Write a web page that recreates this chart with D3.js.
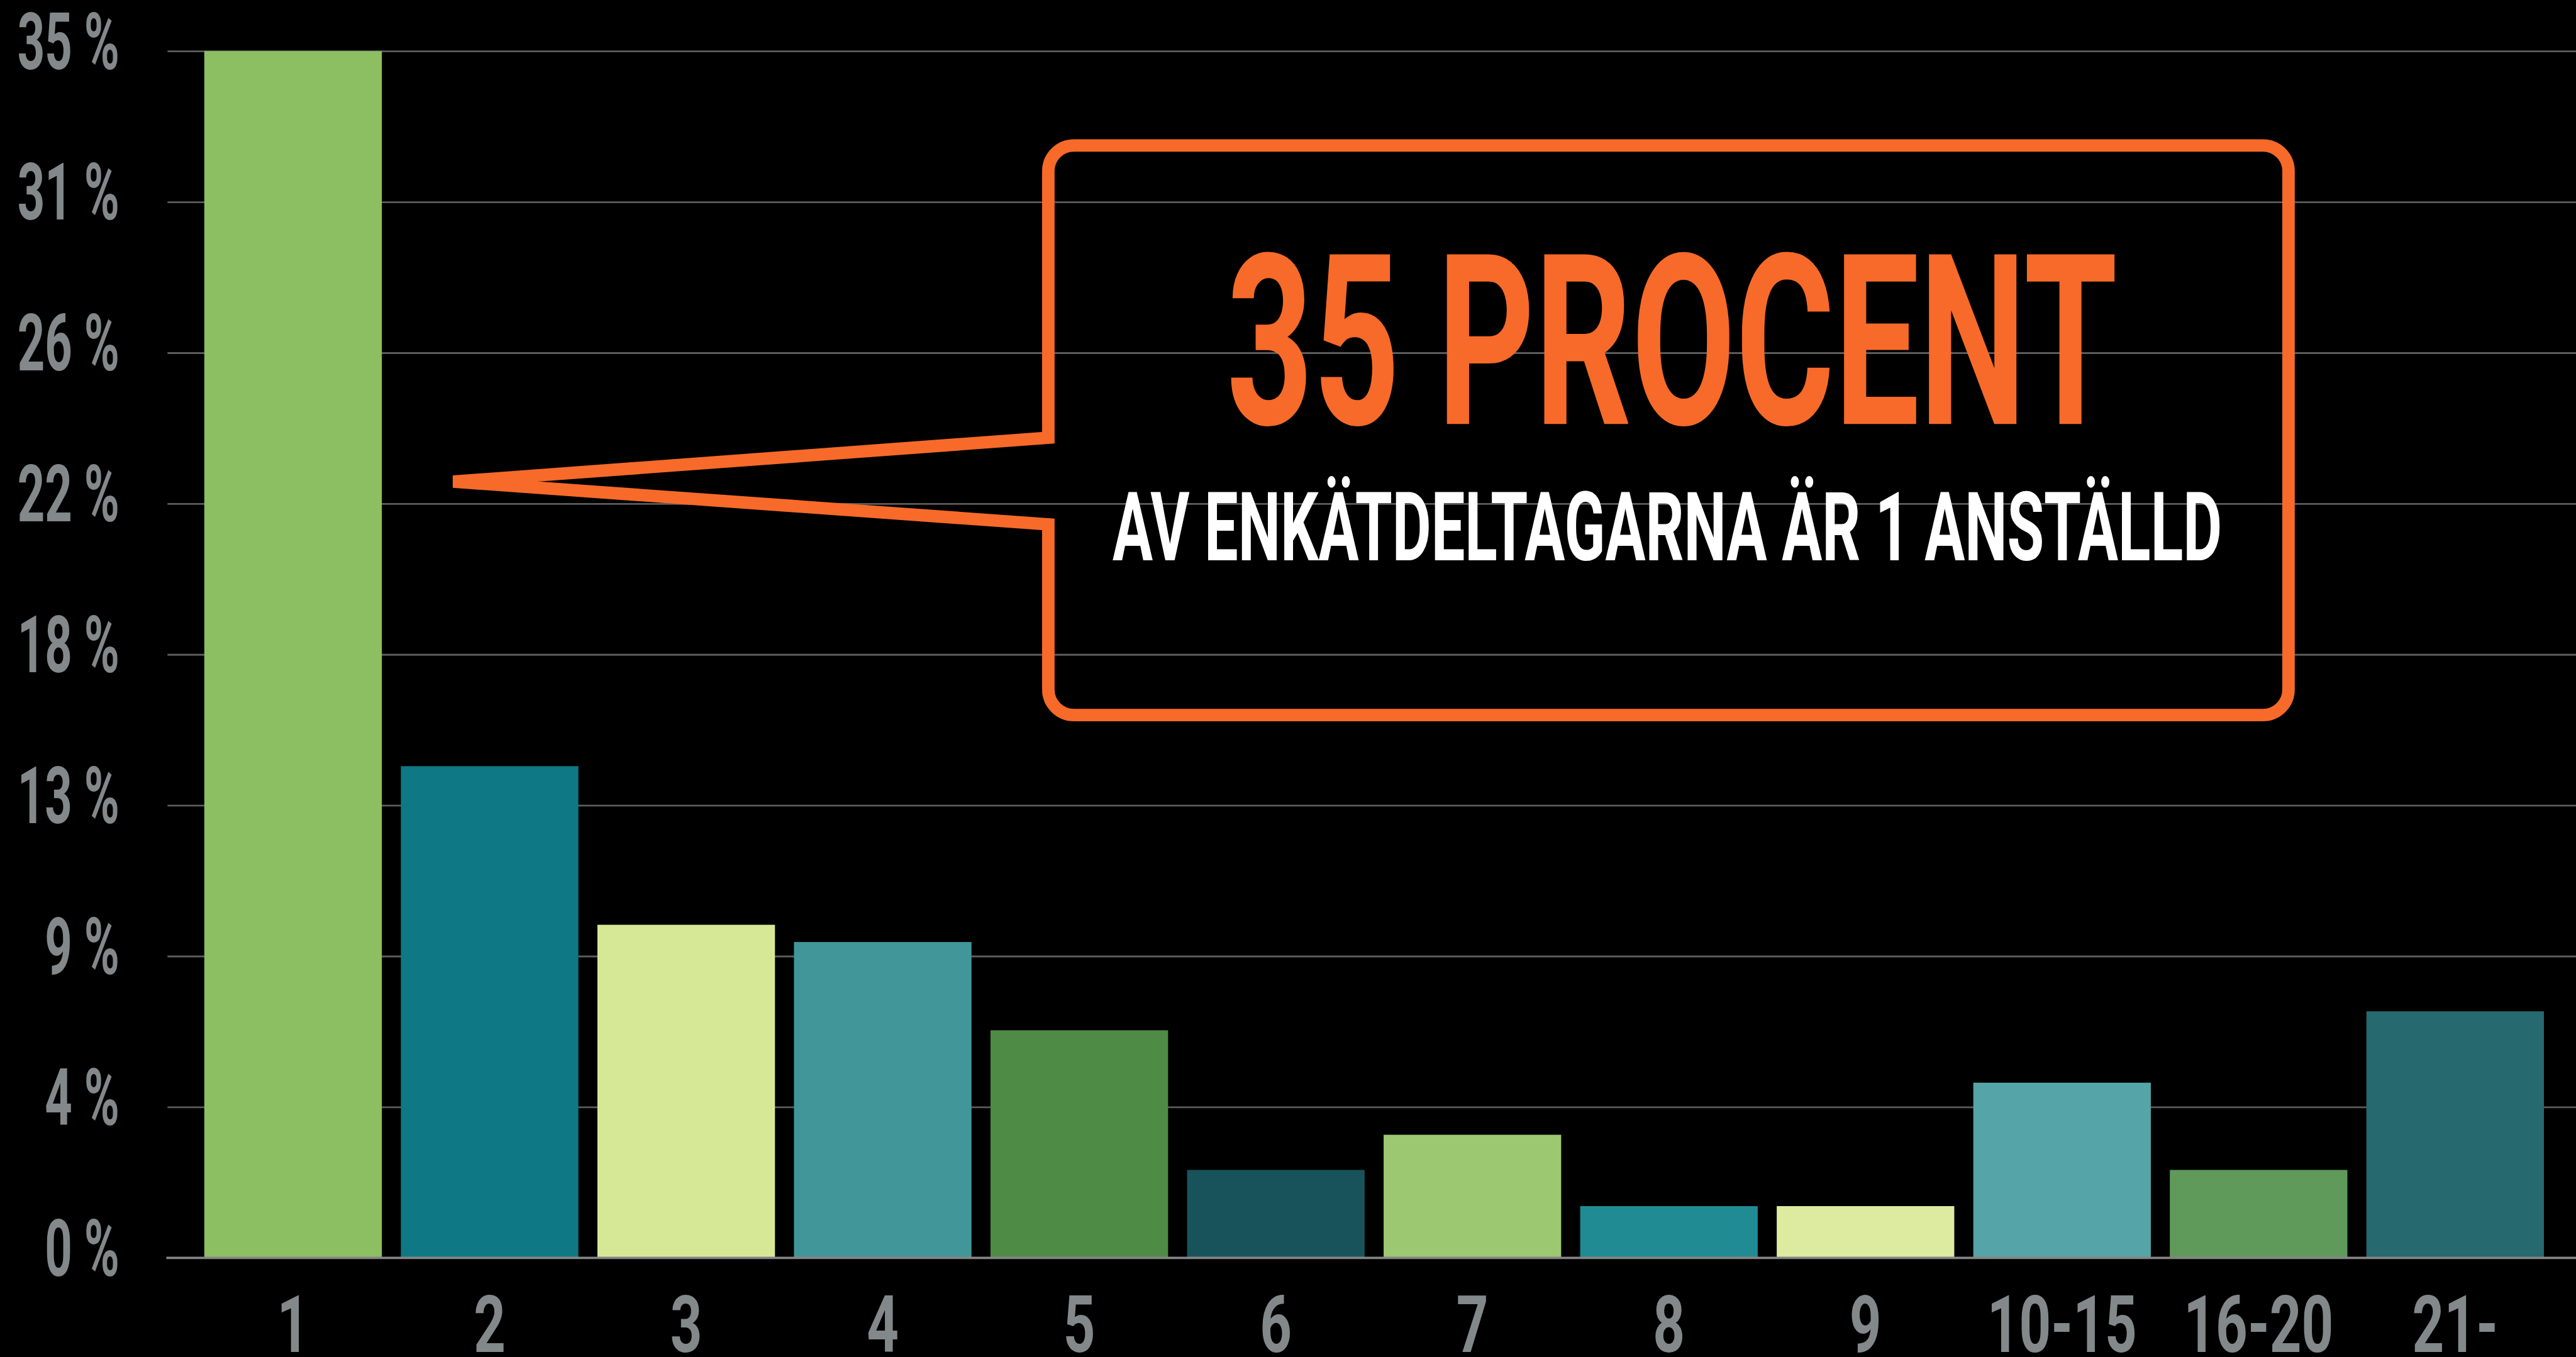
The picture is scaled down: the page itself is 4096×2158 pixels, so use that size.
<!DOCTYPE html>
<html>
<head>
<meta charset="utf-8">
<script src="https://cdn.jsdelivr.net/npm/d3@7"></script>
<style>
    html, body { margin: 0; padding: 0; background: #000; overflow: hidden; }
    svg { display: block; }
</style>
</head>
<body>
<svg id="chart"></svg>
<script>
(function(){
    // data -----------------
    var categories = ['1','2','3','4','5','6','7','8','9','10-15','16-20','21-'];
    var shares = [35, 14.26, 9.66, 9.16, 6.6, 2.55, 3.57, 1.5, 1.5, 5.08, 2.55, 7.15];
    var barColors = ['#8cbf61','#0e7884','#d6e896','#419699','#4e8b45','#18535b',
                     '#9cc872','#218b94','#dceb9f','#55a4a7','#5f9a5a','#26696e'];
    var yTicks = [0, 4.375, 8.75, 13.125, 17.5, 21.875, 26.25, 30.625, 35];
    var yTickLabels = ['0 %','4 %','9 %','13 %','18 %','22 %','26 %','31 %','35 %'];
    var calloutTitle = '35 PROCENT';
    var calloutText = 'AV ENKÄTDELTAGARNA ÄR 1 ANSTÄLLD';

    // layout, in reference pixels; scaled down to the window below
    var W = 4337, H = 2285;
    var vw = 4096, vh = 2158;
    var k = vw / W;
    var gridLeft = 282;
    var orange = '#f76a29', labelGrey = '#83888a';
    var font = 'Roboto, "DejaVu Sans", sans-serif';

    var svg = d3.select('#chart').attr('width', vw).attr('height', vh);
    svg.append('rect').attr('width', vw).attr('height', vh).attr('fill', '#000');
    var root = svg.append('g').attr('transform', 'scale(' + k + ')');

    var y = d3.scaleLinear().domain([0, 35]).range([2118, 86]);
    var x = d3.scaleBand().domain(categories)
        .range([328, 4299])
        .paddingInner(0.0967)
        .paddingOuter(0.0483);

    // GRID -----------------
    var grid = root.append('g')
        .attr('transform', 'translate(' + gridLeft + ',0)')
        .call(d3.axisLeft(y).tickValues(yTicks.slice(1)).tickSize(-(W - gridLeft)).tickFormat(''));
    grid.select('.domain').remove();
    grid.selectAll('line').attr('stroke', '#5c5c5c').attr('stroke-width', 3);

    // BARS -----------------
    root.append('g').selectAll('rect')
        .data(shares)
        .enter().append('rect')
        .attr('x', function(d, i){ return x(categories[i]); })
        .attr('y', function(d){ return y(d); })
        .attr('width', x.bandwidth())
        .attr('height', function(d){ return y(0) - y(d); })
        .attr('fill', function(d, i){ return barColors[i]; });

    // baseline
    root.append('line')
        .attr('x1', gridLeft - 2).attr('x2', W)
        .attr('y1', y(0)).attr('y2', y(0))
        .attr('stroke', '#858585').attr('stroke-width', 4);

    // AXIS LABELS -----------------
    root.append('g').selectAll('text')
        .data(yTicks)
        .enter().append('text')
        .attr('transform', function(d){ return 'translate(201,' + (y(d) + 30) + ') scale(0.6,1)'; })
        .attr('text-anchor', 'end')
        .attr('font-family', font)
        .attr('font-weight', 700)
        .attr('font-size', 134)
        .attr('fill', labelGrey)
        .text(function(d, i){ return yTickLabels[i]; });

    root.append('g').selectAll('text')
        .data(categories)
        .enter().append('text')
        .attr('transform', function(d){ return 'translate(' + (x(d) + x.bandwidth() / 2) + ',2276) scale(0.7,1)'; })
        .attr('text-anchor', 'middle')
        .attr('font-family', font)
        .attr('font-weight', 700)
        .attr('font-size', 134)
        .attr('fill', labelGrey)
        .text(function(d){ return d; });

    // CALLOUT -----------------
    var bx0 = 1765, by0 = 245, bx1 = 3853, by1 = 1204, r = 43;
    var tip = [763, 811], armTop = 737, armBottom = 883;
    var p = d3.path();
    p.moveTo(bx0, armTop);
    p.lineTo(bx0, by0 + r);
    p.arcTo(bx0, by0, bx0 + r, by0, r);
    p.lineTo(bx1 - r, by0);
    p.arcTo(bx1, by0, bx1, by0 + r, r);
    p.lineTo(bx1, by1 - r);
    p.arcTo(bx1, by1, bx1 - r, by1, r);
    p.lineTo(bx0 + r, by1);
    p.arcTo(bx0, by1, bx0, by1 - r, r);
    p.lineTo(bx0, armBottom);
    p.lineTo(tip[0], tip[1]);
    p.closePath();

    root.append('path')
        .attr('d', p.toString())
        .attr('fill', 'none')
        .attr('stroke', orange)
        .attr('stroke-width', 21)
        .attr('stroke-linejoin', 'miter')
        .attr('stroke-miterlimit', 4);

    root.append('text')
        .attr('x', 2815).attr('y', 714)
        .attr('text-anchor', 'middle')
        .attr('font-family', font)
        .attr('font-weight', 700)
        .attr('font-size', 402)
        .attr('fill', orange)
        .attr('textLength', 1500)
        .attr('lengthAdjust', 'spacingAndGlyphs')
        .text(calloutTitle);

    root.append('text')
        .attr('x', 2807).attr('y', 943)
        .attr('text-anchor', 'middle')
        .attr('font-family', font)
        .attr('font-weight', 700)
        .attr('font-size', 162)
        .attr('fill', '#fff')
        .attr('textLength', 1868)
        .attr('lengthAdjust', 'spacingAndGlyphs')
        .text(calloutText);
})();
</script>
</body>
</html>
